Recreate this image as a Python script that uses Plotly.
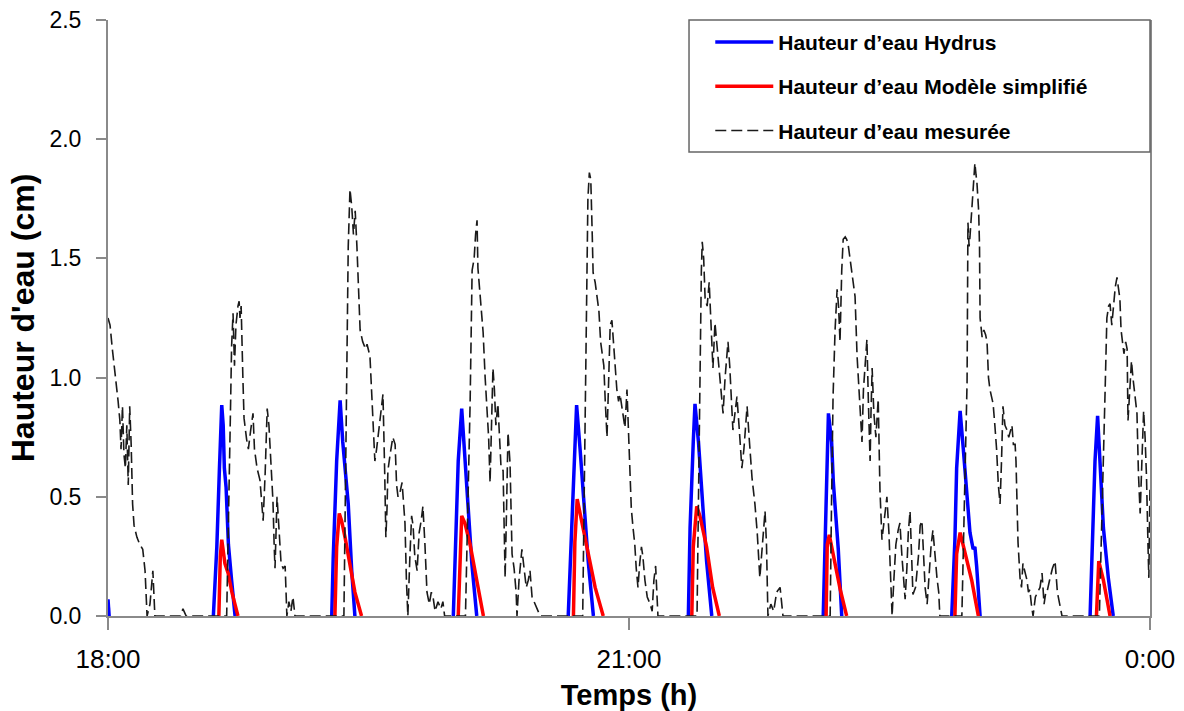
import plotly.graph_objects as go

# time in minutes after 18:00
tick_vals = [0, 180, 360]
tick_text = ["18:00", "21:00", "0:00"]

# Hauteur d'eau Hydrus (None separates events)
t_hydrus = [0, 0.4, None,
            36.4, 37.6, 38.5, 38.9, 39.3, 39.8, 40.2, 40.8, 41.6, 42.7, 43.9, None,
            77.3, 77.8, 79.0, 79.6, 80.2, 81.1, 81.9, 83.0, 84.2, 85.3, None,
            119.3, 120.5, 121.0, 122.2, 123.3, 124.5, 125.7, 127.4, None,
            159.0, 160.2, 161.3, 161.9, 163.1, 164.2, 165.9, 167.7, None,
            200.5, 201.1, 202.2, 202.8, 204.0, 205.1, 206.8, 208.6, None,
            247.1, 247.7, 248.3, 248.9, 250.0, 250.6, 252.3, 253.5, None,
            291.5, 292.6, 293.2, 294.4, 295.5, 296.7, 297.8, 298.9, 299.5, 300.1, 301.3, None,
            339.3, 340.4, 341.0, 341.9, 342.7, 343.9, 345.6, 347.3]
h_hydrus = [0.07, 0.0, None,
            0, 0.29, 0.62, 0.78, 0.885, 0.80, 0.62, 0.54, 0.30, 0.15, 0, None,
            0, 0.24, 0.65, 0.81, 0.905, 0.73, 0.61, 0.47, 0.19, 0, None,
            0, 0.47, 0.65, 0.87, 0.68, 0.44, 0.22, 0, None,
            0, 0.37, 0.70, 0.885, 0.70, 0.51, 0.23, 0, None,
            0, 0.37, 0.73, 0.89, 0.73, 0.51, 0.23, 0, None,
            0, 0.32, 0.58, 0.85, 0.73, 0.56, 0.28, 0, None,
            0, 0.32, 0.62, 0.86, 0.70, 0.52, 0.35, 0.28, 0.29, 0.21, 0, None,
            0, 0.37, 0.65, 0.84, 0.62, 0.37, 0.16, 0]

# Hauteur d'eau Modèle simplifié
t_simple = [38.3, 38.8, 39.3, 39.7, 40.4, 41.5, 42.8, 44.9, None,
            78.4, 79.0, 79.9, 80.7, 81.9, 83.6, 85.3, 87.6, None,
            121.0, 121.6, 122.2, 123.3, 125.1, 127.4, 129.7, None,
            160.8, 161.3, 162.1, 163.1, 165.4, 168.3, 171.1, None,
            201.7, 202.2, 203.4, 204.5, 206.8, 208.9, 211.2, None,
            248.1, 248.5, 249.2, 251.1, 253.0, 255.2, None,
            292.6, 293.2, 294.4, 296.1, 298.4, 300.7, None,
            341.5, 342.3, 343.9, 346.2]
h_simple = [0, 0.25, 0.32, 0.28, 0.22, 0.18, 0.10, 0, None,
            0, 0.29, 0.43, 0.40, 0.33, 0.21, 0.10, 0, None,
            0, 0.28, 0.42, 0.39, 0.30, 0.15, 0, None,
            0, 0.31, 0.49, 0.43, 0.28, 0.12, 0, None,
            0, 0.29, 0.46, 0.42, 0.29, 0.12, 0, None,
            0, 0.30, 0.34, 0.22, 0.11, 0, None,
            0, 0.26, 0.35, 0.27, 0.15, 0, None,
            0, 0.23, 0.15, 0]

# Hauteur d'eau mesurée
t_mes = [0, 0.7, 1.5, 2.4, 3.0, 3.5, 4.1, 4.5, 5.0, 5.5, 6.0, 6.5, 7.0, 7.5, 8.0, 8.5, 9.0, 10.0, 11.0, 12.0,
         12.8, 13.5, 14.5, 15.5, 16.2, 25.0, 25.9, 27.0,
         41.0, 41.8, 42.3, 42.7, 43.2, 43.7, 44.2, 44.9, 45.3, 45.6, 46.0, 46.6, 47.0, 47.9, 48.5, 49.3, 50.1,
         50.6, 51.5, 52.5, 53.2, 53.6, 54.3, 55.0, 55.6, 56.0, 56.6, 57.0, 57.4, 57.7, 58.4, 59.0, 59.8, 60.5,
         61.2, 61.8, 62.5, 63.2, 63.9, 64.6,
         81.5, 82.0, 82.5, 83.0, 83.6, 84.2, 84.8, 85.4, 86.0, 86.5, 87.1, 88.0, 89.0, 89.5, 90.5, 91.2, 91.7,
         92.2, 92.8, 93.5, 94.3, 95.0, 95.6, 96.0, 96.4, 96.7, 97.5, 98.4, 99.2, 99.7, 100.2, 100.9, 101.6,
         102.1, 102.6, 103.1, 103.6, 104.3, 104.9, 105.4, 106.0, 106.8, 107.5, 108.2, 108.8, 109.5, 110.2,
         111.0, 111.7, 112.3, 113.0, 114.0, 115.0, 115.7, 116.3,
         123.5, 124.3, 125.1, 125.8, 126.5, 127.0, 127.5, 127.8, 128.5, 129.0, 129.6, 130.3, 131.0, 131.5,
         132.0, 132.5, 133.0, 133.5, 134.0, 134.7, 135.3, 135.8, 136.5, 137.2, 137.7, 138.2, 138.9, 139.6,
         140.3, 141.0, 141.3, 142.0, 143.0, 143.7, 144.5, 145.2, 145.8, 146.5, 147.5, 148.5, 149.3,
         164.0, 164.6, 165.2, 165.8, 166.3, 166.8, 167.3, 167.6, 168.3, 169.0, 169.6, 170.2, 170.7, 171.3,
         171.8, 172.4, 173.0, 173.5, 174.1, 174.7, 175.2, 175.8, 176.4, 176.9, 177.5, 178.1, 178.6, 179.3,
         179.8, 180.3, 180.8, 181.4, 182.0, 182.5, 183.1, 183.7, 184.3, 184.8, 185.5, 186.3, 187.3, 188.0,
         188.6, 189.2, 189.7, 190.0,
         203.5, 204.0, 204.5, 205.0, 205.3, 205.8, 206.3, 207.0, 207.7, 208.3, 209.0, 209.7, 210.3, 211.0,
         211.7, 212.5, 213.2, 214.2, 214.8, 215.4, 215.9, 216.6, 217.3, 218.0, 219.0, 219.7, 220.3, 220.8,
         221.5, 222.5, 223.5, 224.3, 225.2, 226.0, 227.0, 227.5, 228.0, 229.0, 230.0, 231.0, 232.2, 233.2,
         249.5, 250.0, 250.5, 251.2, 251.9, 252.4, 252.9, 253.5, 254.0, 254.7, 255.2, 255.7, 256.3, 257.0,
         257.5, 258.1, 258.8, 259.5, 260.0, 260.5, 261.0, 261.6, 262.2, 262.7, 263.3, 263.6, 264.0, 264.6,
         265.3, 266.1, 266.7, 267.4, 268.2, 269.1, 269.8, 270.3, 270.9, 271.5, 272.2, 273.0, 273.6, 274.3,
         274.8, 275.4, 276.0, 276.5, 277.1, 277.6, 278.1, 279.0, 280.0, 280.6, 281.2, 281.8, 282.3, 283.0,
         283.7, 284.4, 285.0, 285.7, 286.4, 287.0, 287.4,
         295.0, 295.8, 296.3, 296.8, 297.1, 297.5, 297.8, 298.4, 299.0, 299.5, 299.9, 300.2, 300.8, 301.1,
         301.3, 302.0, 302.6, 303.2, 303.7, 304.2, 304.7, 305.2, 305.8, 306.4, 307.0, 307.6, 308.2, 308.7,
         309.2, 309.9, 310.6, 311.2, 311.6, 312.3, 312.8, 313.4, 313.7, 314.0, 314.4, 315.1, 315.6, 316.1,
         316.8, 317.5, 318.0, 318.5, 319.0, 319.6, 320.4, 321.2, 322.0, 322.7, 323.4, 324.0, 324.4, 325.3,
         326.3, 327.2, 328.0, 328.8, 329.6,
         342.5, 343.2, 343.8, 344.5, 345.1, 345.7, 346.2, 346.8, 347.4, 348.0, 348.6, 349.1, 349.6, 350.0,
         350.3, 351.0, 351.6, 352.1, 352.4, 353.0, 353.6, 354.1, 354.8, 355.5, 356.0, 356.6, 357.2, 357.8,
         358.3, 358.8, 359.3, 359.6, 360.0]
h_mes = [1.25, 1.22, 1.12, 1.03, 0.95, 0.90, 0.82, 0.70, 0.88, 0.68, 0.62, 0.80, 0.55, 0.88, 0.72, 0.47, 0.38, 0.33, 0.30, 0.28,
         0.19, 0.0, 0.05, 0.19, 0.0, 0.0, 0.03, 0.0,
         0, 0.45, 0.85, 1.13, 1.27, 1.05, 1.22, 1.30, 1.32, 1.25, 1.30, 1.00, 0.83, 0.74, 0.70, 0.78, 0.85,
         0.70, 0.62, 0.57, 0.45, 0.40, 0.60, 0.87, 0.80, 0.70, 0.55, 0.48, 0.30, 0.20, 0.50, 0.38, 0.22, 0.20,
         0.21, 0.0, 0.06, 0.02, 0.08, 0.0,
         0, 0.5, 1.20, 1.55, 1.79, 1.72, 1.60, 1.70, 1.55, 1.38, 1.20, 1.15, 1.12, 1.14, 1.09, 0.91, 0.75,
         0.65, 0.70, 0.78, 0.88, 0.93, 0.60, 0.33, 0.45, 0.61, 0.68, 0.75, 0.72, 0.55, 0.50, 0.52, 0.56,
         0.48, 0.39, 0.15, 0.0, 0.25, 0.42, 0.38, 0.25, 0.19, 0.35, 0.40, 0.46, 0.30, 0.10,
         0.05, 0.10, 0.08, 0.02, 0.06, 0.03, 0.06, 0.0,
         0, 0.4, 0.89, 1.45, 1.50, 1.60, 1.66, 1.46, 1.35, 1.25, 1.19, 1.00, 0.85, 0.75,
         0.56, 0.80, 1.04, 0.95, 0.80, 0.89, 0.70, 0.62, 0.61, 0.16, 0.45, 0.77, 0.64, 0.26,
         0.20, 0.10, 0.0, 0.15, 0.28, 0.20, 0.12, 0.15, 0.19, 0.08, 0.05, 0.02, 0.0,
         0, 0.6, 1.3, 1.75, 1.86, 1.83, 1.60, 1.44, 1.40, 1.33, 1.28, 1.15, 1.10, 1.05,
         0.90, 0.75, 1.00, 1.22, 1.24, 1.15, 1.07, 0.95, 0.90, 0.93, 0.88, 0.82, 0.79, 0.95,
         0.75, 0.58, 0.45, 0.37, 0.30, 0.20, 0.12, 0.22, 0.29, 0.25, 0.15, 0.08, 0.05, 0.02,
         0.15, 0.21, 0.10, 0.0,
         0, 0.5, 1.10, 1.45, 1.57, 1.50, 1.33, 1.30, 1.40, 1.25, 1.04, 1.23, 1.15, 1.05,
         0.95, 0.85, 1.00, 1.15, 1.05, 0.90, 0.78, 0.85, 0.92, 0.80, 0.62, 0.70, 0.80, 0.88,
         0.75, 0.58, 0.47, 0.35, 0.16, 0.30, 0.44, 0.30, 0.0, 0.05, 0.02, 0.10, 0.12, 0.0,
         0, 0.5, 0.92, 1.20, 1.37, 1.30, 1.15, 1.45, 1.58, 1.59, 1.58, 1.56, 1.50, 1.44,
         1.38, 1.34, 1.09, 0.95, 0.80, 0.73, 0.95, 1.05, 1.16, 0.90, 0.65, 0.85, 1.04, 0.85,
         0.75, 0.91, 0.53, 0.32, 0.40, 0.50, 0.35, 0.15, 0.0, 0.15, 0.30, 0.36, 0.39, 0.25,
         0.15, 0.07, 0.20, 0.35, 0.44, 0.30, 0.09, 0.12, 0.25, 0.38, 0.40, 0.25, 0.12, 0.05,
         0.20, 0.30, 0.36, 0.25, 0.16, 0.10, 0.0,
         0, 0.4, 0.7, 0.98, 1.65, 1.55, 1.59, 1.70, 1.82, 1.90, 1.85, 1.82, 1.70, 1.55,
         1.25, 1.17, 1.20, 1.18, 1.15, 1.00, 0.95, 0.92, 0.89, 0.80, 0.70, 0.55, 0.47, 0.65,
         0.88, 0.80, 0.78, 0.75, 0.77, 0.80, 0.72, 0.72, 0.65, 0.49, 0.31, 0.16, 0.12, 0.22,
         0.18, 0.15, 0.10, 0.11, 0.05, 0.0, 0.08, 0.10, 0.12, 0.18, 0.05, 0.10, 0.10, 0.15,
         0.20, 0.23, 0.10, 0.05, 0.0,
         0, 0.30, 0.65, 0.95, 1.25, 1.30, 1.31, 1.22, 1.30, 1.38, 1.42, 1.38, 1.33, 1.20,
         1.17, 1.10, 1.15, 1.12, 0.82, 0.95, 1.07, 1.00, 0.91, 0.85, 0.60, 0.43, 0.65, 0.86,
         0.75, 0.58, 0.30, 0.16, 0.55]

FONT = "Arial, Liberation Sans, Helvetica, sans-serif"
AXIS_GRAY = "#8a8a8a"

fig = go.Figure()
fig.add_trace(go.Scatter(x=t_hydrus, y=h_hydrus, mode="lines", name="<b>Hauteur d\u2019eau Hydrus</b>",
                         legendgroup="a", connectgaps=False,
                         line=dict(color="#0000ff", width=3.5)))
fig.add_trace(go.Scatter(x=t_simple, y=h_simple, mode="lines", name="<b>Hauteur d\u2019eau Modèle simplifié</b>",
                         legendgroup="b", connectgaps=False,
                         line=dict(color="#ff0000", width=3.5)))
fig.add_trace(go.Scatter(x=t_mes, y=h_mes, mode="lines", name="<b>Hauteur d\u2019eau mesurée</b>",
                         legendgroup="c",
                         line=dict(color="#1a1a1a", width=1.6, dash="11px,5px")))

fig.add_shape(type="rect", xref="paper", yref="paper", x0=0.5576, x1=1.0, y0=0.7785, y1=1.0,
              line=dict(color="#666666", width=1.5), fillcolor="rgba(0,0,0,0)", layer="above")

fig.update_layout(
    width=1184, height=711,
    margin=dict(l=108, r=34, t=20, b=95),
    paper_bgcolor="white", plot_bgcolor="white",
    font=dict(family=FONT, color="black"),
    showlegend=True,
    legend=dict(x=0.578, y=0.997, xanchor="left", yanchor="top",
                bgcolor="rgba(0,0,0,0)", borderwidth=0,
                font=dict(family=FONT, size=21, color="black"),
                tracegroupgap=14, itemwidth=58),
    xaxis=dict(range=[0, 360], tickvals=tick_vals, ticktext=tick_text, automargin=False,
               showgrid=False, zeroline=False, showline=True, linecolor=AXIS_GRAY, linewidth=2,
               ticks="outside", ticklen=12, tickwidth=1.5, tickcolor=AXIS_GRAY,
               tickfont=dict(family=FONT, size=26, color="black"),
               ticklabelstandoff=7,
               title=dict(text="<b>Temps (h)</b>", font=dict(family=FONT, size=29, color="black"),
                          standoff=16)),
    yaxis=dict(range=[0, 2.5], tickvals=[0, 0.5, 1.0, 1.5, 2.0, 2.5], automargin=False,
               ticktext=["0.0", "0.5", "1.0", "1.5", "2.0", "2.5"],
               showgrid=False, zeroline=False, showline=True, mirror=True,
               linecolor=AXIS_GRAY, linewidth=2,
               ticks="outside", ticklen=10, tickwidth=1.5, tickcolor=AXIS_GRAY,
               tickfont=dict(family=FONT, size=23, color="black"),
               ticklabelstandoff=10,
               title=dict(text="<b>Hauteur d'eau (cm)</b>", font=dict(family=FONT, size=32, color="black"),
                          standoff=5)),
)

fig.write_html("out.html")
